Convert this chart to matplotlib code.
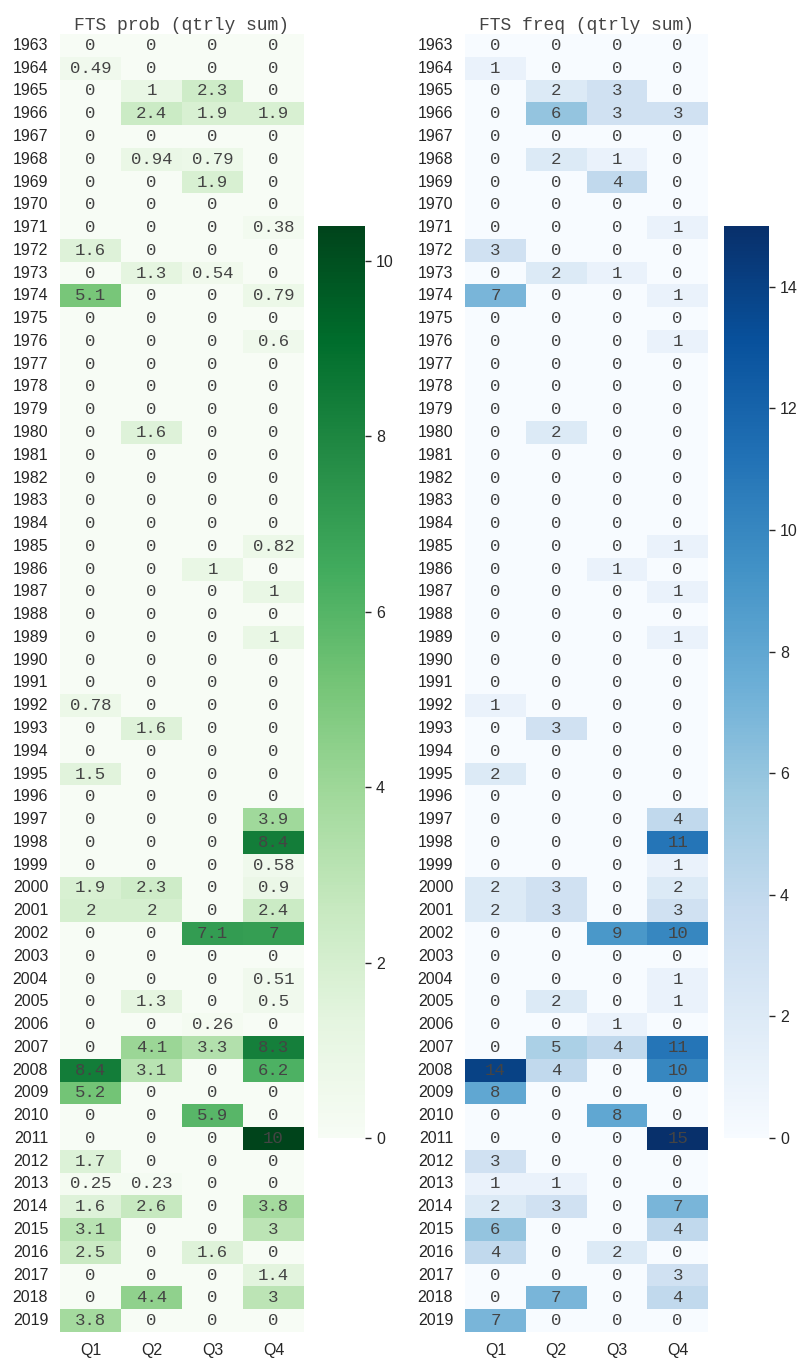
import numpy as np
import pandas as pd
import matplotlib
matplotlib.use("Agg")
import matplotlib.pyplot as plt
import seaborn as sns

years = list(range(1963, 2020))
quarters = ["Q1", "Q2", "Q3", "Q4"]

# FTS probability, quarterly sum (one row per year, Q1..Q4)
prob_q1 = [0, 0.49, 0, 0, 0, 0, 0, 0, 0, 1.6, 0, 5.1, 0, 0, 0, 0, 0, 0, 0, 0,
           0, 0, 0, 0, 0, 0, 0, 0, 0, 0.78, 0, 0, 1.5, 0, 0, 0, 0, 1.9, 2, 0,
           0, 0, 0, 0, 0, 8.4, 5.2, 0, 0, 1.7, 0.25, 1.6, 3.1, 2.5, 0, 0, 3.8]
prob_q2 = [0, 0, 1, 2.4, 0, 0.94, 0, 0, 0, 0, 1.3, 0, 0, 0, 0, 0, 0, 1.6, 0, 0,
           0, 0, 0, 0, 0, 0, 0, 0, 0, 0, 1.6, 0, 0, 0, 0, 0, 0, 2.3, 2, 0,
           0, 0, 1.3, 0, 4.1, 3.1, 0, 0, 0, 0, 0.23, 2.6, 0, 0, 0, 4.4, 0]
prob_q3 = [0, 0, 2.3, 1.9, 0, 0.79, 1.9, 0, 0, 0, 0.54, 0, 0, 0, 0, 0, 0, 0, 0, 0,
           0, 0, 0, 1, 0, 0, 0, 0, 0, 0, 0, 0, 0, 0, 0, 0, 0, 0, 0, 7.1,
           0, 0, 0, 0.26, 3.3, 0, 0, 5.9, 0, 0, 0, 0, 0, 1.6, 0, 0, 0]
prob_q4 = [0, 0, 0, 1.9, 0, 0, 0, 0, 0.38, 0, 0, 0.79, 0, 0.6, 0, 0, 0, 0, 0, 0,
           0, 0, 0.82, 0, 1, 0, 1, 0, 0, 0, 0, 0, 0, 0, 3.9, 8.4, 0.58, 0.9, 2.4, 7,
           0, 0.51, 0.5, 0, 8.3, 6.2, 0, 0, 10.4, 0, 0, 3.8, 3, 0, 1.4, 3, 0]

# FTS frequency, quarterly sum
freq_q1 = [0, 1, 0, 0, 0, 0, 0, 0, 0, 3, 0, 7, 0, 0, 0, 0, 0, 0, 0, 0,
           0, 0, 0, 0, 0, 0, 0, 0, 0, 1, 0, 0, 2, 0, 0, 0, 0, 2, 2, 0,
           0, 0, 0, 0, 0, 14, 8, 0, 0, 3, 1, 2, 6, 4, 0, 0, 7]
freq_q2 = [0, 0, 2, 6, 0, 2, 0, 0, 0, 0, 2, 0, 0, 0, 0, 0, 0, 2, 0, 0,
           0, 0, 0, 0, 0, 0, 0, 0, 0, 0, 3, 0, 0, 0, 0, 0, 0, 3, 3, 0,
           0, 0, 2, 0, 5, 4, 0, 0, 0, 0, 1, 3, 0, 0, 0, 7, 0]
freq_q3 = [0, 0, 3, 3, 0, 1, 4, 0, 0, 0, 1, 0, 0, 0, 0, 0, 0, 0, 0, 0,
           0, 0, 0, 1, 0, 0, 0, 0, 0, 0, 0, 0, 0, 0, 0, 0, 0, 0, 0, 9,
           0, 0, 0, 1, 4, 0, 0, 8, 0, 0, 0, 0, 0, 2, 0, 0, 0]
freq_q4 = [0, 0, 0, 3, 0, 0, 0, 0, 1, 0, 0, 1, 0, 1, 0, 0, 0, 0, 0, 0,
           0, 0, 1, 0, 1, 0, 1, 0, 0, 0, 0, 0, 0, 0, 4, 11, 1, 2, 3, 10,
           0, 1, 1, 0, 11, 10, 0, 0, 15, 0, 0, 7, 4, 0, 3, 4, 0]

prob = pd.DataFrame({"Q1": prob_q1, "Q2": prob_q2, "Q3": prob_q3, "Q4": prob_q4}, index=years)
freq = pd.DataFrame({"Q1": freq_q1, "Q2": freq_q2, "Q3": freq_q3, "Q4": freq_q4}, index=years)

plt.rcParams["font.family"] = ["Liberation Sans", "DejaVu Sans"]
TXT = "#262626"
ANNOT = {"family": "Liberation Mono", "size": 12.5, "color": "#444444"}

W, H = 802, 1358
fig = plt.figure(figsize=(W / 100, H / 100), dpi=100)


def px_axes(x0, y0, x1, y1):
    return fig.add_axes([x0 / W, 1 - y1 / H, (x1 - x0) / W, (y1 - y0) / H])


panels = [
    (prob, "Greens", "FTS prob (qtrly sum)", (60, 34, 304, 1332), (318, 226, 365, 1138)),
    (freq, "Blues", "FTS freq (qtrly sum)", (465, 34, 708, 1332), (724, 226, 769, 1138)),
]

for df, cmap, title, hm_box, cb_box in panels:
    ax = px_axes(*hm_box)
    cax = px_axes(*cb_box)
    sns.heatmap(df, ax=ax, cbar_ax=cax, cmap=cmap, vmin=0, annot=True, fmt=".2g",
                annot_kws=ANNOT)
    ax.set_title(title, family="Liberation Mono", fontsize=13, color="#444444", pad=3)
    ax.tick_params(length=0, labelsize=11.5, colors=TXT)
    ax.tick_params(axis="y", pad=8.5, rotation=0)
    ax.tick_params(axis="x", pad=8)
    cax.tick_params(length=4, width=1, labelsize=11.5, colors=TXT, pad=4)
    cb = ax.collections[0].colorbar
    if cb is not None:
        cb.outline.set_visible(False)

fig.savefig("out.png", dpi=100)
